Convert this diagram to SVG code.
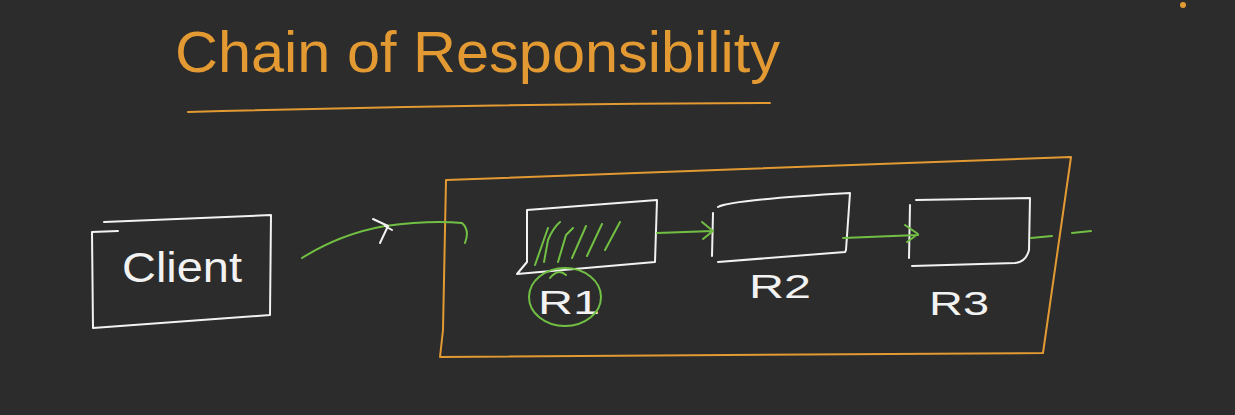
<svg xmlns="http://www.w3.org/2000/svg" width="1235" height="415" viewBox="0 0 1235 415">
<style>
.w{fill:none;stroke:#f2f2f2;stroke-width:2;stroke-linecap:round;stroke-linejoin:round}
.o{fill:none;stroke:#e39a32;stroke-width:2;stroke-linecap:round;stroke-linejoin:round}
.g{fill:none;stroke:#72c043;stroke-width:2;stroke-linecap:round;stroke-linejoin:round}
.tw{fill:#f2f2f2;font-family:"Liberation Sans",Arial,sans-serif;font-weight:normal}
.to{fill:#e39a32;font-family:"Liberation Sans",Arial,sans-serif}
</style>
<rect x="0" y="0" width="1235" height="415" fill="#2c2c2c"/>
<g id="title">
<text class="to" x="175" y="72" font-size="58" textLength="605" lengthAdjust="spacingAndGlyphs">Chain of Responsibility</text>
<path class="o" d="M188 112 Q480 104 770 103"/>
<circle cx="1183" cy="5" r="3" fill="#e39a32"/>
</g>
<g id="client">
<path class="w" d="M104 222 L271 215 L270 315 L93 328 L92 232 L118 231"/>
<text class="tw" x="122" y="282" font-size="42" textLength="120" lengthAdjust="spacingAndGlyphs">Client</text>
</g>
<g id="chain">
<path class="o" d="M446 180 L1071 157 L1043 353 L440 357 L443 330 L446 180"/>
</g>
<g id="r1">
<path class="w" d="M527 210 L657 200 L655 262 L517 274 L527 262 L527 210"/>
<g class="g">
<path d="M535 265 L548 228 M544 262 L548 240 Q553 228 560 222 M558 262 L566 235 L573 228 M572 258 L586 226 M587 256 L602 224 M605 250 L620 222"/>
</g>
<text class="tw" x="538" y="314" font-size="34" textLength="62" lengthAdjust="spacingAndGlyphs">R1</text>
<ellipse class="g" cx="565" cy="297" rx="36" ry="29"/>
<path class="g" d="M550 278 Q558 268 566 275"/>
</g>
<g id="r2">
<path class="w" d="M718 207 Q730 200 850 193 L846 250 L845 252 L718 262 M713 213 L712 256"/>
<text class="tw" x="749" y="298" font-size="34" textLength="62" lengthAdjust="spacingAndGlyphs">R2</text>
</g>
<g id="r3">
<path class="w" d="M916 200 L1030 198 L1029 250 Q1026 262 1015 263 L912 266 M910 205 L909 258"/>
<text class="tw" x="929" y="315" font-size="34" textLength="60" lengthAdjust="spacingAndGlyphs">R3</text>
</g>
<g id="connectors">
<path class="g" d="M302 258 Q340 234 385 226 Q430 220 462 223 Q470 230 465 243"/>
<path class="w" d="M373 219 L388 226 L380 243"/>
<path class="w" d="M385 226 L392 230"/>
<path class="g" d="M657 233 L713 231 M702 222 L713 231 L703 239"/>
<path class="g" d="M843 238 L918 235 M905 225 L918 234 L907 242"/>
<path class="g" d="M1031 238 L1052 236 M1072 233 L1091 231"/>
</g>
</svg>
